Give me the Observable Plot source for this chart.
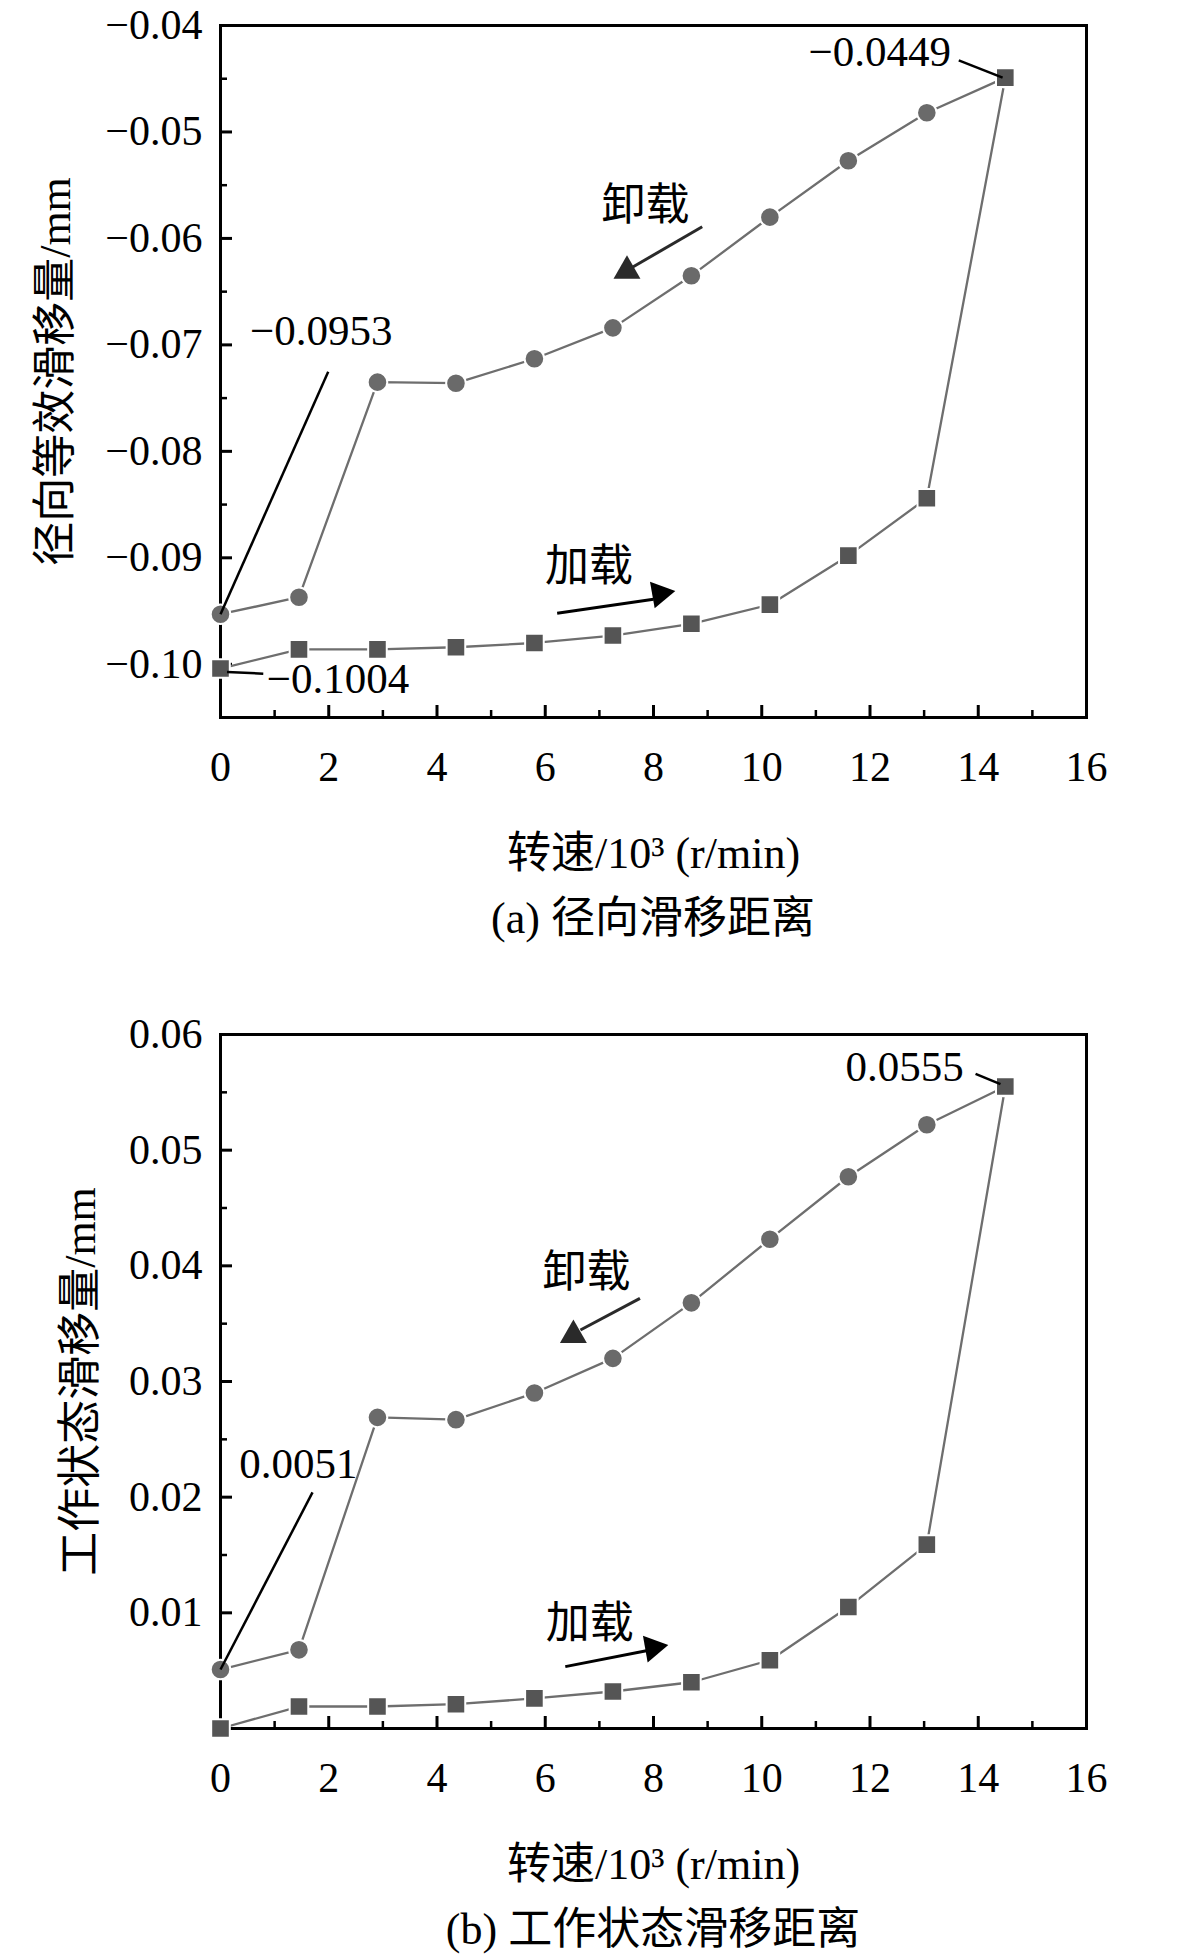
<!DOCTYPE html>
<html><head><meta charset="utf-8">
<script src="https://cdn.jsdelivr.net/npm/d3@7"></script>
<script src="https://cdn.jsdelivr.net/npm/@observablehq/plot@0.6"></script>
<style>
body{margin:0;background:#fff;width:1181px;height:1956px;position:relative;font-family:"Liberation Serif","Noto Sans CJK SC",serif;}
.panel{position:absolute;left:0;}
.cap{position:absolute;left:220px;width:866px;text-align:center;font-size:44px;line-height:44px;color:#000;white-space:nowrap;}
</style></head><body>
<div id="a" class="panel" style="top:0px"></div>
<div class="cap" style="top:897px">(a) 径向滑移距离</div>
<div id="b" class="panel" style="top:1009px"></div>
<div class="cap" style="top:1908px">(b) 工作状态滑移距离</div>
<script>
// ---- data ----
const speed = [0, 1.45, 2.9, 4.35, 5.8, 7.25, 8.7, 10.15, 11.6, 13.05, 14.5];
const radialLoad   = [-0.1004, -0.0986, -0.0986, -0.0984, -0.0980, -0.0973, -0.0962, -0.0944, -0.0898, -0.0844, -0.0449];
const radialUnload = [-0.0953, -0.0937, -0.0735, -0.0736, -0.0713, -0.0684, -0.0635, -0.0580, -0.0527, -0.0482, -0.0449];
const workLoad     = [0, 0.0019, 0.0019, 0.0021, 0.0026, 0.0032, 0.0040, 0.0059, 0.0105, 0.0159, 0.0555];
const workUnload   = [0.0051, 0.0068, 0.0269, 0.0267, 0.0290, 0.0320, 0.0368, 0.0423, 0.0477, 0.0522, 0.0555];

const xTicks = [0, 2, 4, 6, 8, 10, 12, 14, 16];
const xMinor = [1, 3, 5, 7, 9, 11, 13, 15];
const radialYTicks = [-0.10, -0.09, -0.08, -0.07, -0.06, -0.05, -0.04];
const radialYMinor = [-0.095, -0.085, -0.075, -0.065, -0.055, -0.045];
const workYTicks = [0.01, 0.02, 0.03, 0.04, 0.05, 0.06];
const workYMinor = [0.005, 0.015, 0.025, 0.035, 0.045, 0.055];

const xLabel = "转速/10³ (r/min)";
const radialYLabel = "径向等效滑移量/mm";
const workYLabel = "工作状态滑移量/mm";

// annotations (data units)
const radialNotes = [
  {text: "−0.0449", x: 12.18, y: -0.04253},
  {text: "−0.0953", x: 1.86, y: -0.06868},
  {text: "−0.1004", x: 2.17, y: -0.10139}
];
const radialLeaders = [
  {x1: 13.64, y1: -0.04328, x2: 14.45, y2: -0.0449},
  {x1: 1.99, y1: -0.07252, x2: 0, y2: -0.0953},
  {x1: 0.12, y1: -0.10073, x2: 0.79, y2: -0.10088}
];
const radialDirText = [
  {text: "卸载", x: 7.85, y: -0.05696},
  {text: "加载", x: 6.81, y: -0.09089}
];
const radialDirLines = [
  {x1: 8.90, y1: -0.0589, x2: 7.61, y2: -0.06271, c: "#2a2a2a"},
  {x1: 6.22, y1: -0.0952, x2: 8.0, y2: -0.09389, c: "#000"}
];
const radialHeads = [
  {x: 7.51, y: -0.06305, rot: 0, c: "#2a2a2a"},
  {x: 8.12, y: -0.09336, rot: 80, c: "#000"}
];

const workNotes = [
  {text: "0.0555", x: 12.64, y: 0.05714},
  {text: "0.0051", x: 1.44, y: 0.02287}
];
const workLeaders = [
  {x1: 13.95, y1: 0.0566, x2: 14.41, y2: 0.05571},
  {x1: 1.70, y1: 0.02041, x2: 0, y2: 0.0051}
];
const workDirText = [
  {text: "卸载", x: 6.76, y: 0.03938},
  {text: "加载", x: 6.82, y: 0.00904}
];
const workDirLines = [
  {x1: 7.75, y1: 0.03719, x2: 6.65, y2: 0.03445, c: "#2a2a2a"},
  {x1: 6.37, y1: 0.00535, x2: 7.94, y2: 0.00679, c: "#000"}
];
const workHeads = [
  {x: 6.52, y: 0.03401, rot: 0, c: "#2a2a2a"},
  {x: 7.99, y: 0.00698, rot: 80, c: "#000"}
];

function panel(cfg) {
  const W = 1181, mL = 220, mR = 95, mT = 25;
  const innerW = W - mL - mR;
  const innerH = cfg.innerH;
  const H = mT + innerH + 163;
  const load = speed.map((s, i) => ({x: s, y: cfg.load[i]}));
  const unload = speed.map((s, i) => ({x: s, y: cfg.unload[i]}));
  return Plot.plot({
    width: W, height: H,
    marginLeft: mL, marginRight: mR, marginTop: mT, marginBottom: H - mT - innerH,
    style: {fontFamily: '"Liberation Serif","Noto Sans CJK SC",serif', background: "white", color: "black", overflow: "visible"},
    x: {domain: [0, 16]},
    y: {domain: cfg.domain},
    marks: [
      // tick marks (inward)
      Plot.tickY(cfg.yTicks, {y: d => d, insetRight: innerW - 12, stroke: "black", strokeWidth: 3}),
      Plot.tickY(cfg.yMinor, {y: d => d, insetRight: innerW - 7, stroke: "black", strokeWidth: 2.5}),
      Plot.tickX(xTicks, {x: d => d, insetTop: innerH - 12, stroke: "black", strokeWidth: 3}),
      Plot.tickX(xMinor, {x: d => d, insetTop: innerH - 7, stroke: "black", strokeWidth: 2.5}),
      Plot.frame({stroke: "black", strokeWidth: 3}),
      Plot.axisX(xTicks, {tickSize: 0, tickPadding: 34, fontSize: 42, label: null}),
      Plot.axisY(cfg.yTicks, {tickSize: 0, tickPadding: 18, fontSize: 42, tickFormat: d3.format(".2f"), label: null}),
      // axis titles
      Plot.text([xLabel], {frameAnchor: "bottom", dy: 136, fontSize: 44, fill: "black", textAnchor: "middle", lineAnchor: "middle"}),
      Plot.text([cfg.yLabel], {frameAnchor: "left", dx: -cfg.yLabelDx, rotate: -90, fontSize: 44, fill: "black", textAnchor: "middle", lineAnchor: "middle"}),
      // series
      Plot.line(unload, {x: "x", y: "y", stroke: "#6e6e6e", strokeWidth: 2.3}),
      Plot.line(load, {x: "x", y: "y", stroke: "#6e6e6e", strokeWidth: 2.3}),
      Plot.dot(unload, {x: "x", y: "y", r: 9.8, symbol: "circle", fill: "#6a6a6a", stroke: "white", strokeWidth: 2}),
      Plot.dot(load, {x: "x", y: "y", r: 10.5, symbol: "square", fill: "#555555", stroke: "white", strokeWidth: 2}),
      // annotations
      Plot.link(cfg.leaders, {x1: "x1", y1: "y1", x2: "x2", y2: "y2", stroke: "black", strokeWidth: 2.5}),
      Plot.text(cfg.notes, {x: "x", y: "y", text: "text", fontSize: 43, fill: "black"}),
      Plot.link(cfg.dirLines, {x1: "x1", y1: "y1", x2: "x2", y2: "y2", stroke: "c", strokeWidth: 3}),
      Plot.dot(cfg.heads, {x: "x", y: "y", symbol: "triangle", r: 10, fill: "c", rotate: "rot"}),
      Plot.text(cfg.dirText, {x: "x", y: "y", text: "text", fontSize: 44, fill: "black", fontFamily: '"Noto Sans CJK SC",sans-serif'})
    ]
  });
}

document.getElementById("a").append(panel({
  innerH: 692, domain: [-0.105, -0.04], load: radialLoad, unload: radialUnload,
  yTicks: radialYTicks, yMinor: radialYMinor, yLabel: radialYLabel, yLabelDx: 165,
  notes: radialNotes, leaders: radialLeaders, dirText: radialDirText, dirLines: radialDirLines, heads: radialHeads
}));
document.getElementById("b").append(panel({
  innerH: 694, domain: [0, 0.06], load: workLoad, unload: workUnload,
  yTicks: workYTicks, yMinor: workYMinor, yLabel: workYLabel, yLabelDx: 140,
  notes: workNotes, leaders: workLeaders, dirText: workDirText, dirLines: workDirLines, heads: workHeads
}));
</script>
</body></html>
